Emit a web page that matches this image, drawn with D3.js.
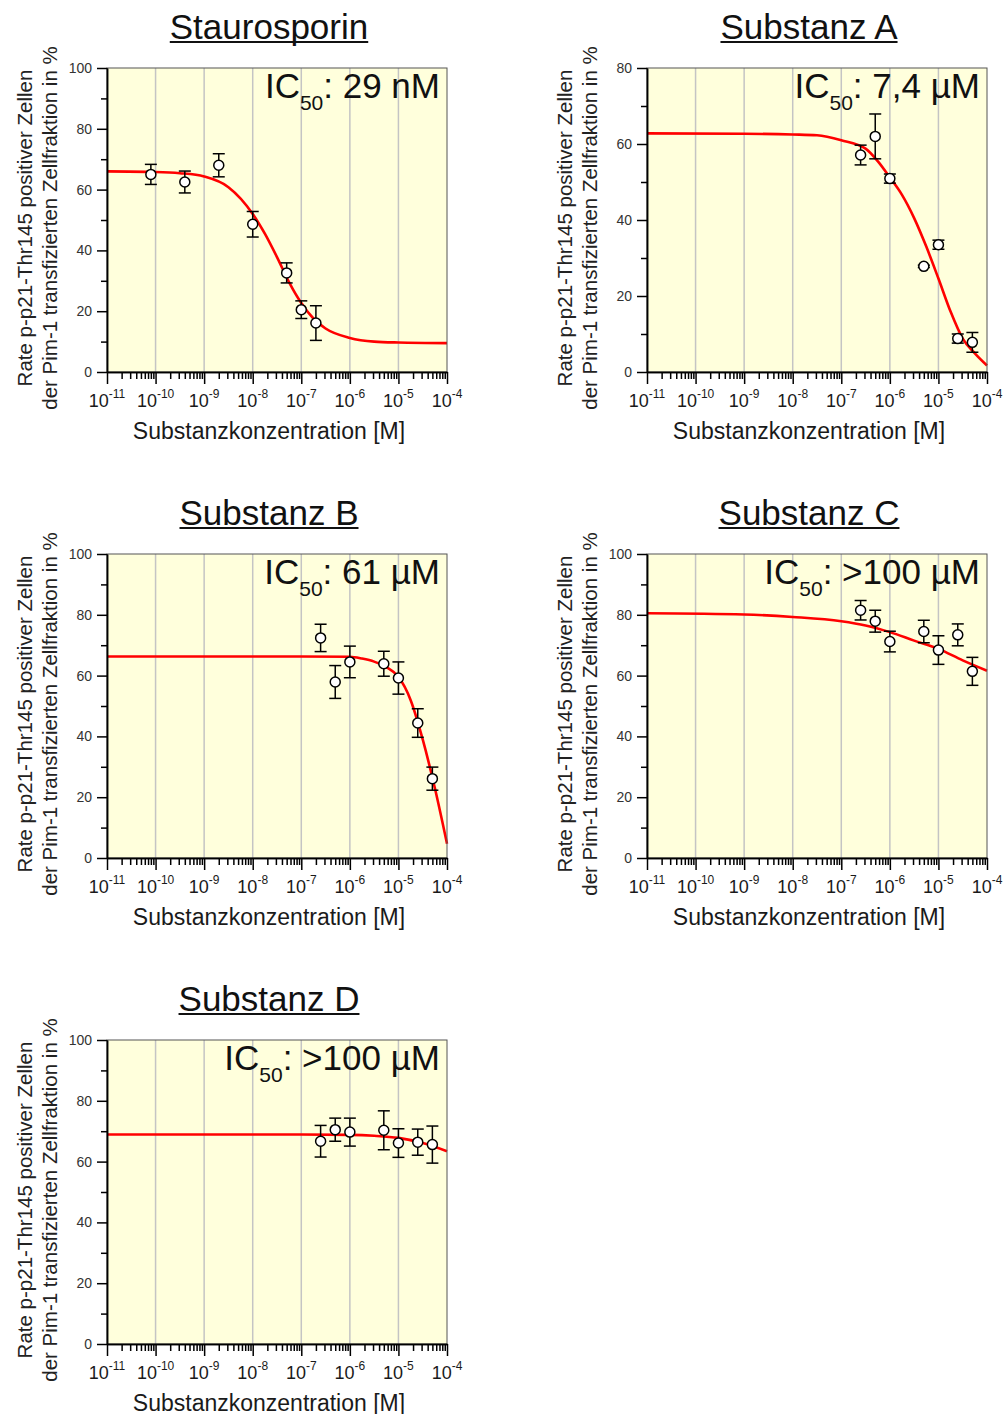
<!DOCTYPE html>
<html>
<head>
<meta charset="utf-8">
<script src="https://cdn.jsdelivr.net/npm/d3@7"></script>
<style>
  body { margin: 0; background: #fff; }
  text { font-family: Arial, "Liberation Sans", sans-serif; }
</style>
</head>
<body>
<div id="chart"></div>
<script>
// titles and IC50 labels
const titles = ["Staurosporin", "Substanz A", "Substanz B", "Substanz C", "Substanz D"];
const ic50Labels = ["29 nM", "7,4 µM", "61 µM", ">100 µM", ">100 µM"];
const yMax = [100, 80, 100, 100, 100];
const decadeExps = [-11, -10, -9, -8, -7, -6, -5, -4];

// measured points (concentration in M, mean %, error)
const concStauro = [8e-11, 4e-10, 2e-9, 1e-8, 5e-8, 1e-7, 2e-7];
const meanStauro = [65.0, 62.5, 68.0, 48.6, 32.6, 20.5, 16.1];
const errStauro = [3.3, 3.6, 3.8, 4.2, 3.3, 2.9, 5.7];

const concSubst = [2.5e-7, 5e-7, 1e-6, 5e-6, 1e-5, 2.5e-5, 5e-5];
const meanA = [57.1, 62.0, 50.9, 27.8, 33.5, 8.8, 7.8];
const errA = [2.6, 5.9, 1.2, 0.3, 1.2, 1.2, 2.6];
const meanB = [72.4, 57.9, 64.5, 63.9, 59.2, 44.4, 26.1];
const errB = [4.5, 5.4, 5.2, 4.1, 5.3, 4.7, 3.8];
const meanC = [81.5, 77.9, 71.2, 74.5, 68.4, 73.4, 61.4];
const errC = [3.2, 3.6, 3.4, 3.7, 4.7, 3.6, 4.6];
const meanD = [66.7, 70.5, 69.7, 70.3, 66.1, 66.4, 65.6];
const errD = [5.2, 3.8, 4.6, 6.4, 4.7, 4.3, 6.1];

// fitted curves (log10 concentration, %)
const fitStauroLog = [-11, -10, -9.5, -9, -8.5, -8, -7.75, -7.5, -7.25, -7, -6.75, -6.5, -6, -5.5, -5, -4];
const fitStauroVal = [66, 65.8, 65.4, 64.3, 60.8, 52, 45.5, 37.8, 29.5, 22.7, 17.6, 14.3, 11.2, 10, 9.7, 9.5];
const fitALog = [-11, -9, -8, -7.5, -7, -6.5, -6.25, -6, -5.75, -5.5, -5.25, -5, -4.75, -4.5, -4.25, -4];
const fitAVal = [62.8, 62.7, 62.5, 62.3, 61.0, 58.8, 55.5, 51.2, 46.6, 40.5, 33.0, 24.6, 15.9, 8.8, 4.9, 1.7];
const fitBLog = [-11, -7, -6, -5.75, -5.5, -5.25, -5, -4.75, -4.5, -4.25, -4];
const fitBVal = [66.3, 66.3, 66.2, 65.6, 64.6, 62.8, 59.6, 52, 39, 23, 4.7];
const fitCLog = [-11, -9, -8, -7, -6.5, -6, -5.5, -5, -4.5, -4];
const fitCVal = [80.5, 80.1, 79.3, 77.9, 76.5, 74.3, 71.5, 68.8, 65, 61.6];
const fitDLog = [-11, -7, -6, -5.5, -5, -4.5, -4];
const fitDVal = [68.9, 68.9, 68.8, 68.5, 67.8, 66.1, 63.4];

const concs = [concStauro, concSubst, concSubst, concSubst, concSubst];
const means = [meanStauro, meanA, meanB, meanC, meanD];
const errs = [errStauro, errA, errB, errC, errD];
const fitLogs = [fitStauroLog, fitALog, fitBLog, fitCLog, fitDLog];
const fitVals = [fitStauroVal, fitAVal, fitBVal, fitCVal, fitDVal];

const width = 1005, height = 1414;
const plotW = 340, plotH = 304;

const svg = d3.select("#chart")
    .append("svg")
    .attr("width", width)
    .attr("height", height);

svg.append("rect").attr("width", width).attr("height", height).attr("fill", "#fff");

titles.forEach((title, i) => {
    const left = i % 2 ? 647 : 107;
    const top = 68 + Math.floor(i / 2) * 486;
    const g = svg.append("g").attr("transform", "translate(" + left + "," + top + ")");

    const x = d3.scaleLog().domain([1e-11, 1e-4]).range([0, plotW]);
    const y = d3.scaleLinear().domain([0, yMax[i]]).range([plotH, 0]);

    // plot background
    g.append("rect")
        .attr("width", plotW)
        .attr("height", plotH)
        .attr("fill", "#ffffdc");

    // vertical grid at decades
    g.selectAll(".grid")
        .data(decadeExps.slice(1, -1))
        .join("line")
        .attr("x1", d => x(Math.pow(10, d)))
        .attr("x2", d => x(Math.pow(10, d)))
        .attr("y1", 0)
        .attr("y2", plotH)
        .attr("stroke", "#c4c4c4")
        .attr("stroke-width", 1.5);

    // fitted curve
    const fit = fitLogs[i].map((l, k) => [l, fitVals[i][k]]);
    g.append("path")
        .datum(fit)
        .attr("fill", "none")
        .attr("stroke", "#ff0000")
        .attr("stroke-width", 2.6)
        .attr("d", d3.line()
            .x(d => x(Math.pow(10, d[0])))
            .y(d => y(d[1]))
            .curve(d3.curveMonotoneX));

    // error bars
    const pts = concs[i].map((c, k) => ({ c: c, m: means[i][k], e: errs[i][k] }));
    const eb = g.selectAll(".eb").data(pts).join("g")
        .attr("stroke", "#000").attr("stroke-width", 1.5);
    eb.append("line")
        .attr("x1", d => x(d.c)).attr("x2", d => x(d.c))
        .attr("y1", d => y(d.m - d.e)).attr("y2", d => y(d.m + d.e));
    eb.append("line")
        .attr("x1", d => x(d.c) - 6).attr("x2", d => x(d.c) + 6)
        .attr("y1", d => y(d.m - d.e)).attr("y2", d => y(d.m - d.e));
    eb.append("line")
        .attr("x1", d => x(d.c) - 6).attr("x2", d => x(d.c) + 6)
        .attr("y1", d => y(d.m + d.e)).attr("y2", d => y(d.m + d.e));

    // points
    g.selectAll(".pt").data(pts).join("circle")
        .attr("cx", d => x(d.c))
        .attr("cy", d => y(d.m))
        .attr("r", 5)
        .attr("fill", "#fff")
        .attr("stroke", "#000")
        .attr("stroke-width", 1.5);

    // frame (top / right)
    g.append("rect")
        .attr("width", plotW)
        .attr("height", plotH)
        .attr("fill", "none")
        .attr("stroke", "#555")
        .attr("stroke-width", 1);

    // X axis: minor + major ticks
    const minor = [];
    decadeExps.slice(0, -1).forEach(e => {
        for (let k = 2; k <= 9; k++) minor.push(k * Math.pow(10, e));
    });
    const xMinor = g.append("g").attr("transform", "translate(0," + plotH + ")")
        .call(d3.axisBottom(x).tickValues(minor).tickSize(7).tickSizeOuter(0).tickFormat(""));
    const xMajor = g.append("g").attr("transform", "translate(0," + plotH + ")")
        .call(d3.axisBottom(x).tickValues(decadeExps.map(e => Math.pow(10, e))).tickSize(12).tickSizeOuter(0).tickFormat(""));
    [xMinor, xMajor].forEach(a => {
        a.selectAll("line").attr("stroke", "#000").attr("stroke-width", 1.5);
        a.select(".domain").attr("stroke", "#000").attr("stroke-width", 1.5);
    });

    // X tick labels 10^e
    const xl = g.selectAll(".xl").data(decadeExps).join("text")
        .attr("x", d => x(Math.pow(10, d)))
        .attr("y", plotH + 35)
        .attr("text-anchor", "middle")
        .attr("fill", "#1a1a1a")
        .attr("font-size", 18);
    xl.append("tspan").text("10");
    xl.append("tspan").attr("font-size", 12).attr("dy", -9).text(d => "-" + Math.abs(d));

    // Y axis
    const yMajorVals = d3.range(0, yMax[i] + 1, 20);
    const yMinorVals = d3.range(10, yMax[i], 20);
    const yMinorAx = g.append("g")
        .call(d3.axisLeft(y).tickValues(yMinorVals).tickSize(6).tickSizeOuter(0).tickFormat(""));
    const yMajorAx = g.append("g")
        .call(d3.axisLeft(y).tickValues(yMajorVals).tickSize(10).tickSizeOuter(0).tickPadding(5));
    [yMinorAx, yMajorAx].forEach(a => {
        a.selectAll("line").attr("stroke", "#000").attr("stroke-width", 1.5);
        a.select(".domain").attr("stroke", "#000").attr("stroke-width", 1.5);
    });
    yMajorAx.selectAll("text")
        .attr("font-size", 14)
        .attr("font-family", "Arial, 'Liberation Sans', sans-serif")
        .attr("fill", "#333");

    // IC50 label
    const ic = g.append("text")
        .attr("x", plotW - 7)
        .attr("y", 30)
        .attr("text-anchor", "end")
        .attr("font-size", 35)
        .attr("fill", "#111");
    ic.append("tspan").text("IC");
    ic.append("tspan").attr("font-size", 21).attr("dy", 12).text("50");
    ic.append("tspan").attr("dy", -12).text(": " + ic50Labels[i]);

    // title with underline
    const t = g.append("text")
        .attr("x", 162)
        .attr("y", -29.5)
        .attr("text-anchor", "middle")
        .attr("font-size", 35)
        .attr("fill", "#111")
        .text(title);
    const tw = t.node().getComputedTextLength();
    g.append("line")
        .attr("x1", 162 - tw / 2).attr("x2", 162 + tw / 2)
        .attr("y1", -26).attr("y2", -26)
        .attr("stroke", "#111").attr("stroke-width", 2);

    // X axis label
    g.append("text")
        .attr("x", 162)
        .attr("y", plotH + 66.5)
        .attr("text-anchor", "middle")
        .attr("font-size", 23)
        .attr("fill", "#1a1a1a")
        .text("Substanzkonzentration [M]");

    // Y axis label (two lines)
    g.append("text")
        .attr("transform", "translate(-82," + 160 + ") rotate(-90)")
        .attr("text-anchor", "middle")
        .attr("dy", "0.35em")
        .attr("font-size", 20.5)
        .attr("fill", "#222")
        .text("Rate p-p21-Thr145 positiver Zellen");
    g.append("text")
        .attr("transform", "translate(-57," + 160 + ") rotate(-90)")
        .attr("text-anchor", "middle")
        .attr("dy", "0.35em")
        .attr("font-size", 20.5)
        .attr("fill", "#222")
        .text("der Pim-1 transfizierten Zellfraktion in %");
});
</script>
</body>
</html>
